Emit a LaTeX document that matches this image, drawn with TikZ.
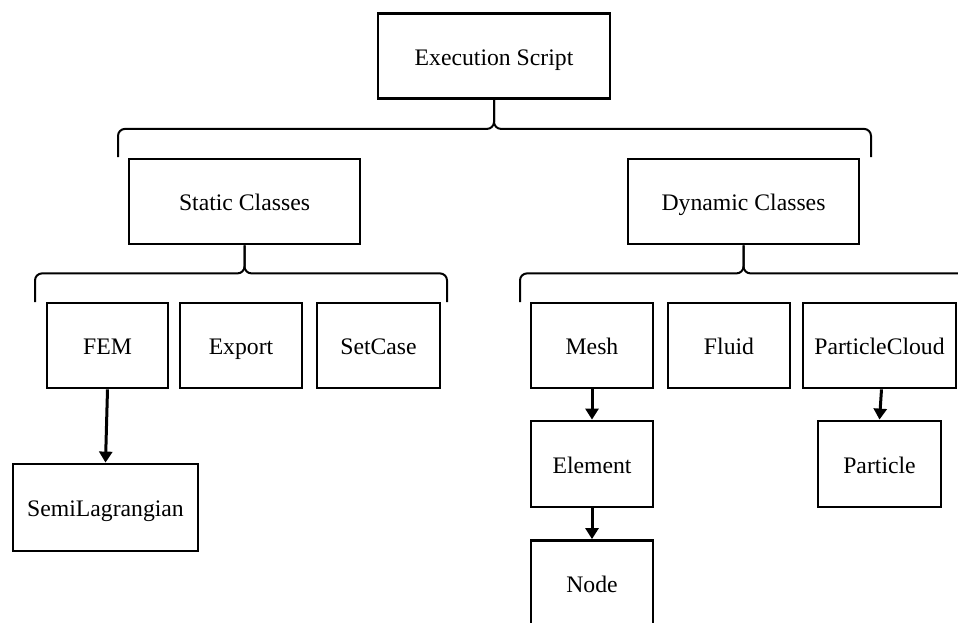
\documentclass[tikz,border=0pt]{standalone}
\usepackage{fontspec}
\setmainfont{Liberation Serif}
\usetikzlibrary{arrows.meta}

\begin{document}
\begin{tikzpicture}[x=1pt,y=-1pt,
    box/.style={draw,line width=2.8pt,inner sep=0pt,minimum height=85pt,
      text height=20pt,text depth=2pt,font=\fontsize{23.7}{28}\selectfont},
    brace/.style={line width=2pt,rounded corners=7pt},
    link/.style={line width=3pt,-{Triangle[length=11pt,width=13pt]}}]
            \useasboundingbox (0,0) rectangle (958,622);
            \clip (0,0) rectangle (958,622);
            % top level
            \node [box,minimum width=232pt] (exec) at (494,56) {Execution Script};
            \node [box,minimum width=231pt] (static) at (244.5,201.5) {Static Classes};
            \node [box,minimum width=231pt] (dynamic) at (743.5,201.5) {Dynamic Classes};
            % static classes
            \node [box,minimum width=121pt] (fem) at (107.5,345.5) {FEM};
            \node [box,minimum width=122pt] (export) at (241,345.5) {Export};
            \node [box,minimum width=123pt] (setcase) at (378.5,345.5) {SetCase};
            \node [box,minimum width=185pt,minimum height=87pt] (semilag) at (105.5,507.5) {SemiLagrangian};
            % dynamic classes
            \node [box,minimum width=122pt] (mesh) at (592,345.5) {Mesh};
            \node [box,minimum width=122pt] (fluid) at (729,345.5) {Fluid};
            \node [box,minimum width=153pt] (pcloud) at (879.5,345.5) {ParticleCloud};
            \node [box,minimum width=122pt,minimum height=86pt] (element) at (592,464) {Element};
            \node [box,minimum width=122pt] (node) at (592,583) {Node};
            \node [box,minimum width=123pt,minimum height=86pt] (particle) at (879.5,464) {Particle};
            % brace ends
            \coordinate (b1l) at (118,157);
            \coordinate (b1r) at (871,157);
            \coordinate (b2l) at (35,302);
            \coordinate (b2r) at (447,302);
            \coordinate (b3l) at (520,302);
            \coordinate (b3r) at (967,302);
            \draw [brace] (b1l) |- ([yshift=-29pt]exec.south) -- (exec.south);
            \draw [brace] (b1r) |- ([yshift=-29pt]exec.south) -- (exec.south);
            \draw [brace] (b2l) |- ([yshift=-28pt]static.south) -- (static.south);
            \draw [brace] (b2r) |- ([yshift=-28pt]static.south) -- (static.south);
            \draw [brace] (b3l) |- ([yshift=-28pt]dynamic.south) -- (dynamic.south);
            \draw [brace] (b3r) |- ([yshift=-28pt]dynamic.south) -- (dynamic.south);
            % arrows
            \draw [link] (fem.south) -- (semilag.north);
            \draw [link] (mesh.south) -- (element.north);
            \draw [link] (element.south) -- (node.north);
            \draw [link] ([xshift=2pt]pcloud.south) -- (particle.north);
        \end{tikzpicture}
\end{document}
